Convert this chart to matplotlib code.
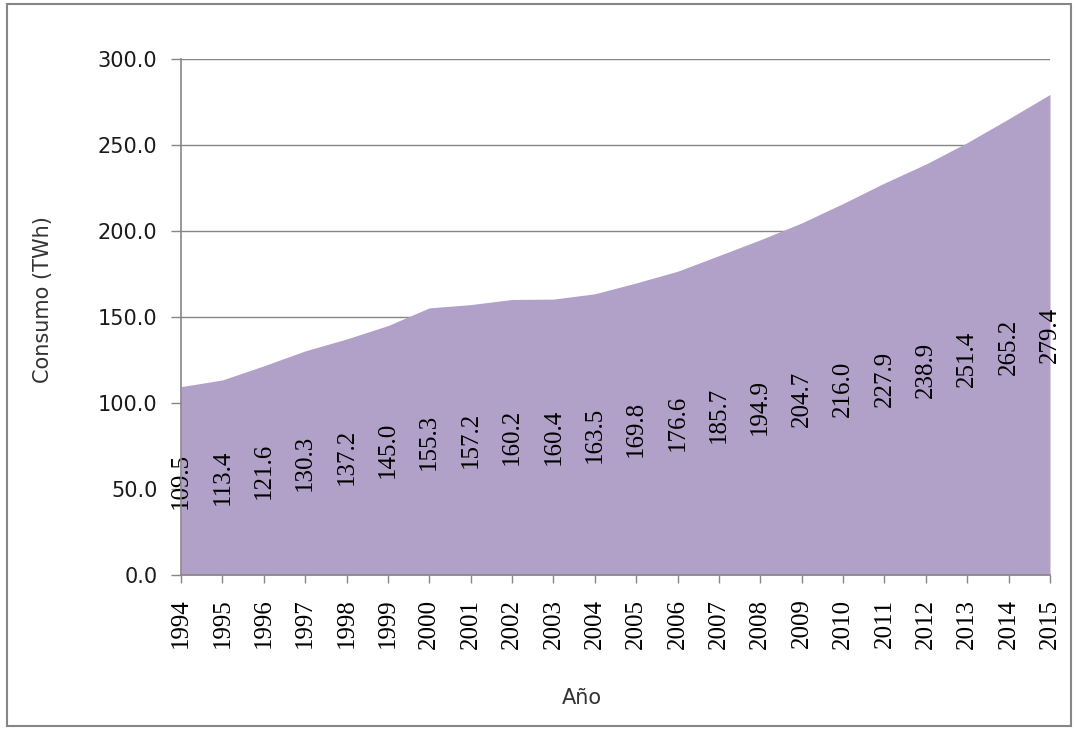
import matplotlib.pyplot as plt
from matplotlib.patches import Rectangle

# Consumo anual (TWh)
years = ['1994', '1995', '1996', '1997', '1998', '1999', '2000', '2001',
         '2002', '2003', '2004', '2005', '2006', '2007', '2008', '2009',
         '2010', '2011', '2012', '2013', '2014', '2015']
consumo = [109.5, 113.4, 121.6, 130.3, 137.2, 145.0, 155.3, 157.2,
           160.2, 160.4, 163.5, 169.8, 176.6, 185.7, 194.9, 204.7,
           216.0, 227.9, 238.9, 251.4, 265.2, 279.4]
yticks = [0, 50, 100, 150, 200, 250, 300]

fill_color = '#B1A0C7'
line_gray = '#868686'

fig = plt.figure(figsize=(10.76, 7.30), dpi=100)
ax = fig.add_axes([181/1076, 1 - 575/730, (1050 - 181)/1076, (575 - 59)/730])

x = list(range(len(years)))
ax.fill_between(x, 0, consumo, color=fill_color, linewidth=0, zorder=2)

# etiquetas de datos, centradas en el area
for xi, v in zip(x, consumo):
    ax.text(xi, v / 2, '{:.1f}'.format(v), rotation=90, ha='center', va='center',
            family='Liberation Serif', fontsize=18, color='black', zorder=3)

ax.set_xlim(0, len(years) - 1)
ax.set_ylim(0, 300)
ax.set_xticks(x)
ax.set_xticklabels(years, rotation=90, family='Liberation Serif', fontsize=18)
ax.set_yticks(yticks)
ax.set_yticklabels(['{:.1f}'.format(t) for t in yticks], family='DejaVu Sans',
                   fontsize=15, color='#1a1a1a')
ax.yaxis.grid(True, color=line_gray, linewidth=1, zorder=1)
ax.set_axisbelow(True)

for side in ['top', 'right']:
    ax.spines[side].set_visible(False)
for side in ['left', 'bottom']:
    ax.spines[side].set_color(line_gray)
    ax.spines[side].set_linewidth(1.2)
    ax.spines[side].set_zorder(4)
ax.tick_params(axis='y', direction='out', length=7, width=1, color=line_gray, pad=10)
ax.tick_params(axis='x', direction='out', length=6, width=1, color=line_gray, pad=11)

fig.text(43/1076, 1 - 300/730, 'Consumo (TWh)', rotation=90, ha='center', va='center',
         family='DejaVu Sans', fontsize=15, color='#333333')
fig.text(582/1076, 1 - 698/730, 'Año', ha='center', va='center',
         family='DejaVu Sans', fontsize=15, color='#333333')

# marco del grafico
fig.patches.append(Rectangle((7/1076, 1 - 726/730), (1071 - 7)/1076, (726 - 4)/730,
                             transform=fig.transFigure, fill=False,
                             edgecolor=line_gray, linewidth=1.5))

fig.savefig('out.png', dpi=100)
